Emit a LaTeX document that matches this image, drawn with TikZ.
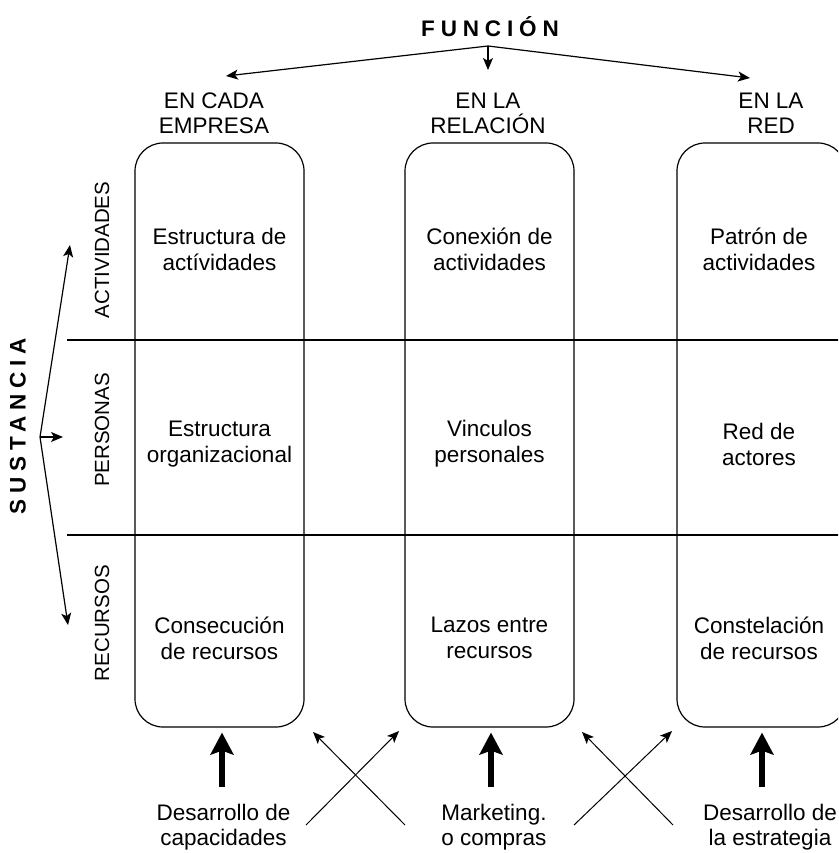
\documentclass[tikz,border=0pt]{standalone}
\usepackage{fontspec}
\setmainfont{Liberation Sans}
\usetikzlibrary{arrows.meta,positioning}

\begin{document}
\begin{tikzpicture}[x=1pt, y=-1pt,
    >={Stealth[length=12pt,width=10pt,inset=3pt]},
    every node/.style={inner sep=0pt},
    colbox/.style={draw, line width=1.2pt, rounded corners=28pt, minimum width=169pt, minimum height=584pt},
    cell/.style={align=center, font=\fontsize{22.5}{26}\selectfont},
    footlab/.style={align=center, font=\fontsize{22.5}{25}\selectfont},
    head/.style={align=center, font=\fontsize{22.5}{25}\selectfont},
    rowlab/.style={rotate=90, font=\fontsize{20.5}{24}\selectfont},
    axlabel/.style={font=\fontsize{22.5}{26}\selectfont\bfseries\addfontfeature{LetterSpace=26}},
    fineline/.style={line width=1.2pt},
    crossline/.style={->, line width=1pt},
    bigarrow/.style={-{Stealth[length=22pt,width=23pt,inset=4pt]}, line width=6pt}]
      \useasboundingbox (0,0) rectangle (838,853);
      \clip (0,0) rectangle (838,853);
      \node[colbox] (box1) at (219.5,435) {};
      \node[colbox] (box2) at (489.5,435) {};
      \node[colbox] (box3) at (761.5,435) {};
      \draw[fineline] (67,340) -- (845,340);
      \draw[fineline] (67,535) -- (845,535);
      \node[axlabel] (funcion) at (490,27) {FUNCIÓN};
      \coordinate (fapex) at (488,46);
      \coordinate (ftipl) at (226,76);
      \coordinate (ftipc) at (488,70);
      \coordinate (ftipr) at (750,78);
      \draw[->, fineline] (fapex) -- (ftipl);
      \draw[->, fineline] (fapex) -- (ftipc);
      \draw[->, fineline] (fapex) -- (ftipr);
      \node[head] (head1) at (214,113.5) {EN CADA\\EMPRESA};
      \node[head] (head2) at (488,113.5) {EN LA\\RELACIÓN};
      \node[head] (head3) at (771,113.5) {EN LA\\RED};
      \node[axlabel, rotate=90] (sustancia) at (18,426) {SUSTANCIA};
      \coordinate (sapex) at (40,437);
      \coordinate (stipu) at (70,245);
      \coordinate (stipc) at (63,437);
      \coordinate (stipd) at (68,625);
      \draw[->, fineline] (sapex) -- (stipu);
      \draw[->, fineline] (sapex) -- (stipc);
      \draw[->, fineline] (sapex) -- (stipd);
      \node[rowlab] (act) at (102,250) {ACTIVIDADES};
      \node[rowlab] (per) at (102,430) {PERSONAS};
      \node[rowlab] (rec) at (102,623) {RECURSOS};
      \node[cell] (c11) at (219.5,249) {Estructura de\\actívidades};
      \node[cell] (c12) at (489.5,249) {Conexión de\\actividades};
      \node[cell] (c13) at (759,249) {Patrón de\\actividades};
      \node[cell] (c21) at (219.5,444) {Estructura\\organizacional};
      \node[cell] (c22) at (489.5,444) {Vinculos\\personales};
      \node[cell] (c23) at (759,444) {Red de\\actores};
      \node[cell] (c31) at (219.5,638) {Consecución\\de recursos};
      \node[cell] (c32) at (489.5,638) {Lazos entre\\recursos};
      \node[cell] (c33) at (759,638) {Constelación\\de recursos};
      \node[footlab] (foot1) at (223.5,827) {Desarrollo de\\capacidades};
      \node[footlab] (foot2) at (494,827) {Marketing.\\o compras};
      \node[footlab] (foot3) at (770,827) {Desarrollo de\\la estrategia};
      \coordinate (up1) at (222,787);
      \coordinate (up2) at (491,787);
      \coordinate (up3) at (762,787);
      \draw[bigarrow, shorten >=5pt] (up1) -- (up1 |- box1.south);
      \draw[bigarrow, shorten >=5pt] (up2) -- (up2 |- box2.south);
      \draw[bigarrow, shorten >=5pt] (up3) -- (up3 |- box3.south);
      \coordinate (xa1) at (306,825);
      \coordinate (xa2) at (399,731);
      \coordinate (xb1) at (405,825);
      \coordinate (xb2) at (313,732);
      \coordinate (xc1) at (574,825);
      \coordinate (xc2) at (672,731);
      \coordinate (xd1) at (673,825);
      \coordinate (xd2) at (582,732);
      \draw[crossline] (xa1) -- (xa2);
      \draw[crossline] (xb1) -- (xb2);
      \draw[crossline] (xc1) -- (xc2);
      \draw[crossline] (xd1) -- (xd2);
    \end{tikzpicture}
\end{document}
